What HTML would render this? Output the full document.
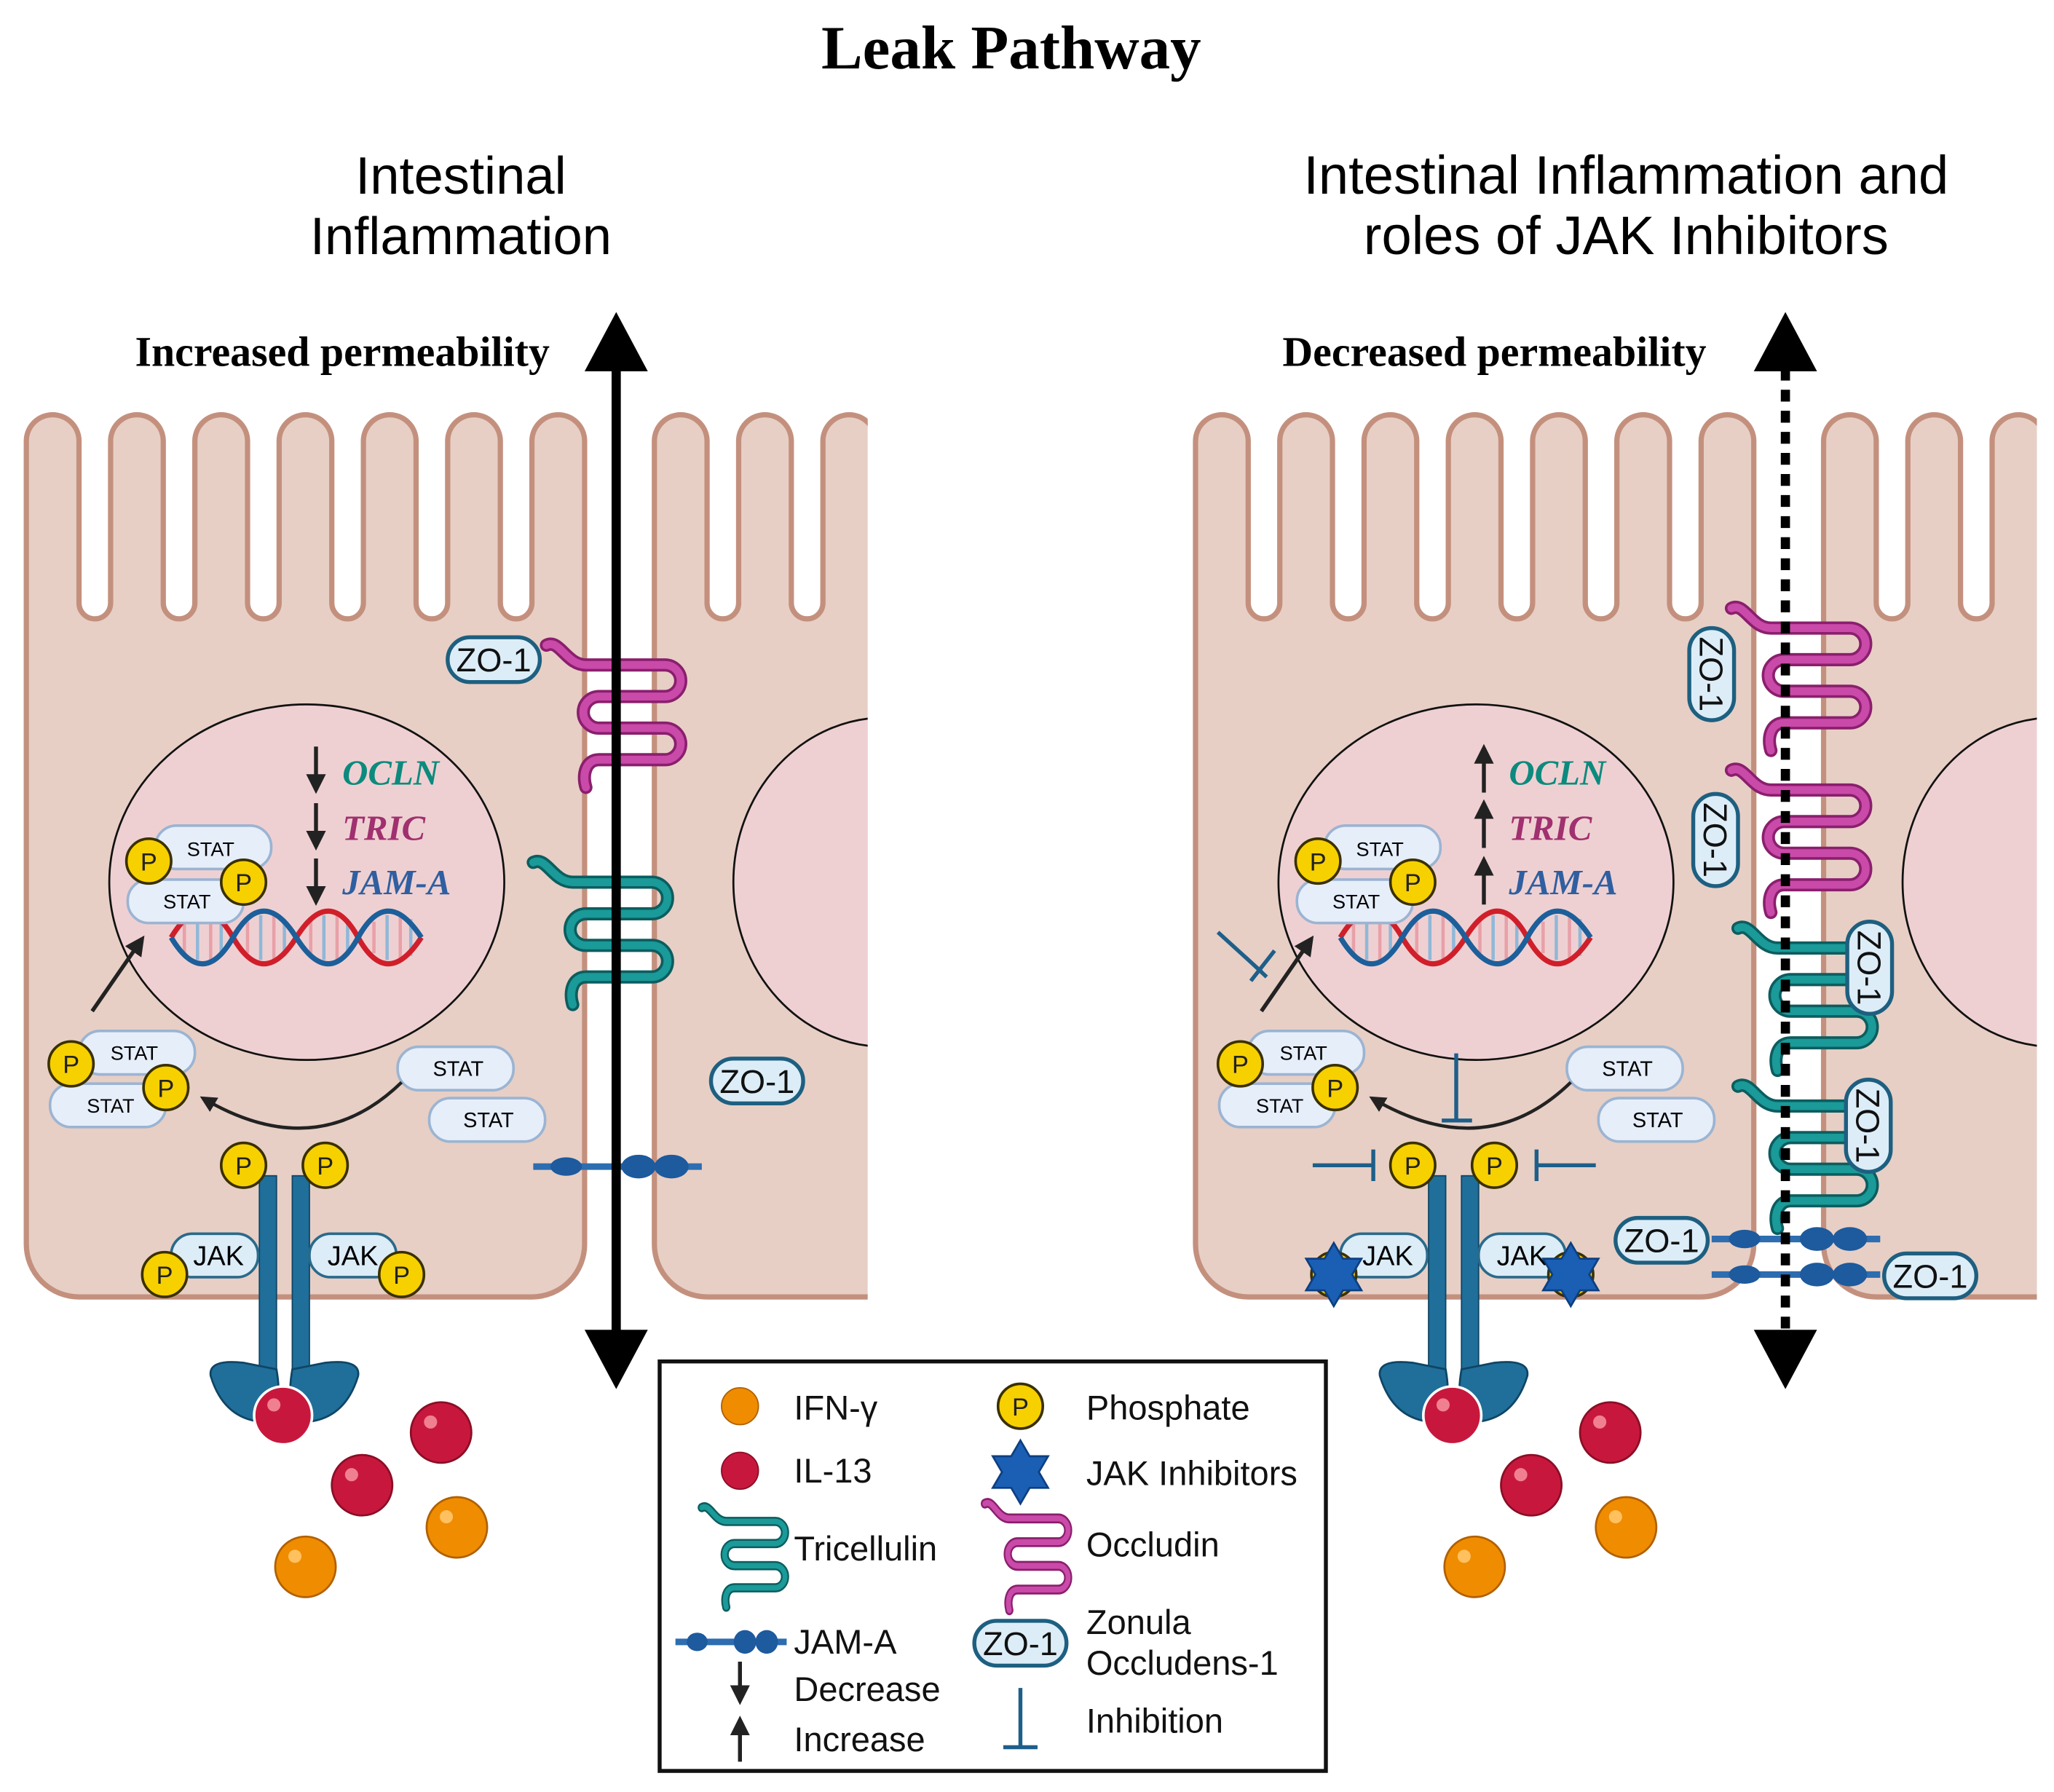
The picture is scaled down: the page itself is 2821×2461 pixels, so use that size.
<!DOCTYPE html>
<html><head><meta charset="utf-8"><style>html,body{margin:0;padding:0;background:#fff}svg{display:block}</style></head>
<body>
<svg xmlns="http://www.w3.org/2000/svg" xmlns:xlink="http://www.w3.org/1999/xlink" width="2821" height="2461" viewBox="0 0 1560 1361" preserveAspectRatio="none" font-family="Liberation Sans, sans-serif">
<defs>
<path id="cell" d="M20,945 L20,335 A20,20 0 0 1 60,335 L60,458 A12,12 0 0 0 84,458 L84,335 A20,20 0 0 1 124,335 L124,458 A12,12 0 0 0 148,458 L148,335 A20,20 0 0 1 188,335 L188,458 A12,12 0 0 0 212,458 L212,335 A20,20 0 0 1 252,335 L252,458 A12,12 0 0 0 276,458 L276,335 A20,20 0 0 1 316,335 L316,458 A12,12 0 0 0 340,458 L340,335 A20,20 0 0 1 380,335 L380,458 A12,12 0 0 0 404,458 L404,335 A20,20 0 0 1 444,335 L444,945 A40,40 0 0 1 404,985 L60,985 A40,40 0 0 1 20,945 Z"/>
<path id="ncell" d="M497,945 L497,335 A20,20 0 0 1 537,335 L537,458 A12,12 0 0 0 561,458 L561,335 A20,20 0 0 1 601,335 L601,458 A12,12 0 0 0 625,458 L625,335 A20,20 0 0 1 665,335 L665,458 L700,458 L700,985 L537,985 A40,40 0 0 1 497,945 Z"/>
<clipPath id="clipL"><rect x="0" y="0" width="659" height="1361"/></clipPath>
<clipPath id="clipR"><rect x="0" y="0" width="1547" height="1361"/></clipPath>
<path id="serp" d="M0,0 C10,-5 15,15 30,15 L90,15 A12,12 0 0 1 90,39 L40,39 A12,12 0 0 0 40,63 L90,63 A12,12 0 0 1 90,87 L40,87 C30,87 27,98 30,108" fill="none"/>
<g id="occ"><use xlink:href="#serp" stroke="#8a1f6d" stroke-width="10" stroke-linecap="round"/><use xlink:href="#serp" stroke="#c94aa8" stroke-width="6" stroke-linecap="round"/></g>
<g id="tric"><use xlink:href="#serp" stroke="#0c5d5f" stroke-width="10" stroke-linecap="round"/><use xlink:href="#serp" stroke="#1a9a98" stroke-width="6" stroke-linecap="round"/></g>
<g id="P"><circle r="17" fill="#f7d000" stroke="#3a3000" stroke-width="2"/><text y="7" text-anchor="middle" font-size="19" fill="#222">P</text></g>
<g id="star"><polygon points="0,-24 7,-12 21,-12 14,0 21,12 7,12 0,24 -7,12 -21,12 -14,0 -21,-12 -7,-12" fill="#1a5fb4" stroke="#0d3f80" stroke-width="1.5"/></g>
<g id="jam"><line x1="0" y1="0" x2="128" y2="0" stroke="#2d6db0" stroke-width="5"/><ellipse cx="25" cy="0" rx="12" ry="7" fill="#1d5a9e"/><ellipse cx="80" cy="0" rx="13" ry="9" fill="#1d5a9e"/><ellipse cx="105" cy="0" rx="13" ry="9" fill="#1d5a9e"/></g>
<g id="dna">
<g stroke-width="2.5"><line x1="140" y1="700" x2="140" y2="724" stroke="#e8a0a8"/><line x1="150" y1="695" x2="150" y2="729" stroke="#8fb8d8"/><line x1="160" y1="694" x2="160" y2="730" stroke="#e8a0a8"/><line x1="168" y1="698" x2="168" y2="726" stroke="#8fb8d8"/><line x1="188" y1="700" x2="188" y2="724" stroke="#e8a0a8"/><line x1="198" y1="695" x2="198" y2="729" stroke="#8fb8d8"/><line x1="208" y1="694" x2="208" y2="730" stroke="#e8a0a8"/><line x1="216" y1="698" x2="216" y2="726" stroke="#8fb8d8"/><line x1="236" y1="700" x2="236" y2="724" stroke="#e8a0a8"/><line x1="246" y1="695" x2="246" y2="729" stroke="#8fb8d8"/><line x1="256" y1="694" x2="256" y2="730" stroke="#e8a0a8"/><line x1="264" y1="698" x2="264" y2="726" stroke="#8fb8d8"/><line x1="284" y1="700" x2="284" y2="724" stroke="#e8a0a8"/><line x1="294" y1="695" x2="294" y2="729" stroke="#8fb8d8"/><line x1="304" y1="694" x2="304" y2="730" stroke="#e8a0a8"/><line x1="312" y1="698" x2="312" y2="726" stroke="#8fb8d8"/></g>
<path d="M130,712 Q154,672 177,712 T225,712 T272,712 T320,712" fill="none" stroke="#d01f2a" stroke-width="4"/>
<path d="M130,712 Q154,752 177,712 T225,712 T272,712 T320,712" fill="none" stroke="#1c5f9a" stroke-width="4"/>
</g>
<g id="statpill"><rect x="0" y="0" width="88" height="33" rx="16" fill="#e6eefa" stroke="#9bb4d2" stroke-width="2"/></g>
<g id="zo"><rect x="-35" y="-17" width="70" height="34" rx="17" fill="#dcedf8" stroke="#1e5f80" stroke-width="3"/><text y="9" text-anchor="middle" font-size="25" fill="#111">ZO-1</text></g>
<g id="receptor">
<rect x="197" y="893" width="13" height="160" fill="#1f6f9a" stroke="#0f4565" stroke-width="1"/>
<rect x="222" y="893" width="13" height="160" fill="#1f6f9a" stroke="#0f4565" stroke-width="1"/>
<path d="M160,1045 Q158,1032 185,1035 L210,1040 Q216,1075 200,1080 Q170,1078 160,1045 Z" fill="#1f6f9a" stroke="#0f4565" stroke-width="1.5"/>
<path d="M272,1045 Q274,1032 247,1035 L222,1040 Q216,1075 232,1080 Q262,1078 272,1045 Z" fill="#1f6f9a" stroke="#0f4565" stroke-width="1.5"/>
<circle cx="215" cy="1075" r="22" fill="#c8173d" stroke="#fff" stroke-width="2"/>
<circle cx="208" cy="1067" r="5" fill="#f08090"/>
</g>
<marker id="ah" markerWidth="5" markerHeight="5" refX="4" refY="2.5" orient="auto" markerUnits="strokeWidth"><path d="M0,0 L5,2.5 L0,5 Z" fill="#222"/></marker>
</defs>

<!-- Titles -->
<text x="768" y="52" text-anchor="middle" font-family="Liberation Serif, serif" font-weight="bold" font-size="47">Leak Pathway</text>
<text x="350" y="147" text-anchor="middle" font-size="40">Intestinal</text>
<text x="350" y="193" text-anchor="middle" font-size="40">Inflammation</text>
<text x="1235" y="147" text-anchor="middle" font-size="41">Intestinal Inflammation and</text>
<text x="1235" y="193" text-anchor="middle" font-size="41">roles of JAK Inhibitors</text>
<text x="260" y="278" text-anchor="middle" font-family="Liberation Serif, serif" font-weight="bold" font-size="32">Increased permeability</text>
<text x="1135" y="278" text-anchor="middle" font-family="Liberation Serif, serif" font-weight="bold" font-size="32">Decreased permeability</text>

<!-- LEFT PANEL cells -->
<g clip-path="url(#clipL)">
<use xlink:href="#ncell" fill="#e7cfc5" stroke="#c4907e" stroke-width="4"/>
<ellipse cx="672" cy="670" rx="115" ry="125" fill="#efd0d2" stroke="#111" stroke-width="1.5"/>
</g>
<use xlink:href="#cell" fill="#e7cfc5" stroke="#c4907e" stroke-width="4"/>
<ellipse cx="233" cy="670" rx="150" ry="135" fill="#efd0d2" stroke="#111" stroke-width="1.5"/>

<!-- RIGHT PANEL cells -->
<g clip-path="url(#clipR)">
<use xlink:href="#ncell" transform="translate(888,0)" fill="#e7cfc5" stroke="#c4907e" stroke-width="4"/>
<ellipse cx="1560" cy="670" rx="115" ry="125" fill="#efd0d2" stroke="#111" stroke-width="1.5"/>
</g>
<use xlink:href="#cell" transform="translate(888,0)" fill="#e7cfc5" stroke="#c4907e" stroke-width="4"/>
<ellipse cx="1121" cy="670" rx="150" ry="135" fill="#efd0d2" stroke="#111" stroke-width="1.5"/>

<g id="contents">
<use xlink:href="#dna"/>
<use xlink:href="#statpill" transform="translate(118,627)"/>
<use xlink:href="#statpill" transform="translate(97,668)"/>
<text x="160" y="650" text-anchor="middle" font-size="15">STAT</text>
<text x="142" y="690" text-anchor="middle" font-size="15">STAT</text>
<use xlink:href="#P" transform="translate(113,654)"/>
<use xlink:href="#P" transform="translate(185,670)"/>
<line x1="70" y1="768" x2="108" y2="713" stroke="#222" stroke-width="3" marker-end="url(#ah)"/>
<use xlink:href="#statpill" transform="translate(60,783)"/>
<use xlink:href="#statpill" transform="translate(38,823)"/>
<text x="102" y="805" text-anchor="middle" font-size="15">STAT</text>
<text x="84" y="845" text-anchor="middle" font-size="15">STAT</text>
<use xlink:href="#P" transform="translate(54,808)"/>
<use xlink:href="#P" transform="translate(126,826)"/>
<use xlink:href="#statpill" transform="translate(302,795)"/>
<use xlink:href="#statpill" transform="translate(326,834)"/>
<text x="348" y="817" text-anchor="middle" font-size="16">STAT</text>
<text x="371" y="856" text-anchor="middle" font-size="16">STAT</text>
<path d="M305,822 Q240,885 154,834" fill="none" stroke="#222" stroke-width="2.5" marker-end="url(#ah)"/>
<use xlink:href="#receptor"/>
<use xlink:href="#P" transform="translate(185,885)"/>
<use xlink:href="#P" transform="translate(247,885)"/>
<rect x="130" y="937" width="66" height="33" rx="16" fill="#dcedf8" stroke="#2a6a8a" stroke-width="2"/>
<rect x="235" y="937" width="66" height="33" rx="16" fill="#dcedf8" stroke="#2a6a8a" stroke-width="2"/>
<text x="166" y="961" text-anchor="middle" font-size="21">JAK</text>
<text x="268" y="961" text-anchor="middle" font-size="21">JAK</text>
<circle cx="335" cy="1088" r="23" fill="#c8173d" stroke="#8a0e26" stroke-width="1.5"/>
<circle cx="275" cy="1128" r="23" fill="#c8173d" stroke="#8a0e26" stroke-width="1.5"/>
<circle cx="347" cy="1160" r="23" fill="#f08c00" stroke="#b06000" stroke-width="1.5"/>
<circle cx="232" cy="1190" r="23" fill="#f08c00" stroke="#b06000" stroke-width="1.5"/>
<circle cx="327" cy="1080" r="5" fill="#f08090"/><circle cx="267" cy="1120" r="5" fill="#f08090"/>
<circle cx="339" cy="1152" r="5" fill="#ffc060"/><circle cx="224" cy="1182" r="5" fill="#ffc060"/>
</g>
<use xlink:href="#contents" transform="translate(888,0)"/>

<use xlink:href="#P" transform="translate(125,968)"/>
<use xlink:href="#P" transform="translate(305,968)"/>
<g stroke="#222" stroke-width="3" marker-end="url(#ah)">
<line x1="240" y1="567" x2="240" y2="600"/><line x1="240" y1="610" x2="240" y2="643"/><line x1="240" y1="652" x2="240" y2="685"/>
</g>
<g font-family="Liberation Serif, serif" font-weight="bold" font-style="italic" font-size="27">
<text x="260" y="596" fill="#0c8a7e">OCLN</text><text x="260" y="638" fill="#a0306f">TRIC</text><text x="260" y="679" fill="#2f5fa0">JAM-A</text>
<text x="1146" y="596" fill="#0c8a7e">OCLN</text><text x="1146" y="638" fill="#a0306f">TRIC</text><text x="1146" y="679" fill="#2f5fa0">JAM-A</text>
</g>
<use xlink:href="#occ" transform="translate(415,490)"/>
<use xlink:href="#tric" transform="translate(405,655)"/>
<use xlink:href="#zo" transform="translate(375,501)"/>
<use xlink:href="#zo" transform="translate(575,821)"/>
<use xlink:href="#jam" transform="translate(405,886)"/>
<line x1="468" y1="275" x2="468" y2="1015" stroke="#000" stroke-width="7"/>
<polygon points="468,237 492,282 444,282" fill="#000"/>
<polygon points="468,1055 492,1010 444,1010" fill="#000"/>

<use xlink:href="#P" transform="translate(1013,968)"/>
<use xlink:href="#P" transform="translate(1193,968)"/>
<use xlink:href="#star" transform="translate(1013,968)"/>
<use xlink:href="#star" transform="translate(1193,968)"/>
<g stroke="#222" stroke-width="3" marker-end="url(#ah)">
<line x1="1127" y1="602" x2="1127" y2="568"/><line x1="1127" y1="644" x2="1127" y2="610"/><line x1="1127" y1="687" x2="1127" y2="653"/>
</g>
<g stroke="#1e5f8a" stroke-width="3" fill="none">
<path d="M925,708 L958,738 M946,727 L962,742 M950,745 L968,722"/>
<line x1="1106" y1="800" x2="1106" y2="850"/><line x1="1095" y1="851" x2="1118" y2="851"/>
<line x1="997" y1="885" x2="1042" y2="885"/><line x1="1043" y1="873" x2="1043" y2="897"/>
<line x1="1212" y1="885" x2="1168" y2="885"/><line x1="1167" y1="873" x2="1167" y2="897"/>
</g>
<use xlink:href="#occ" transform="translate(1315,462)"/>
<use xlink:href="#occ" transform="translate(1315,585)"/>
<use xlink:href="#tric" transform="translate(1320,705)"/>
<use xlink:href="#tric" transform="translate(1320,825)"/>
<use xlink:href="#zo" transform="translate(1300,512) rotate(90)"/>
<use xlink:href="#zo" transform="translate(1303,638) rotate(90)"/>
<use xlink:href="#zo" transform="translate(1420,735) rotate(90)"/>
<use xlink:href="#zo" transform="translate(1419,855) rotate(90)"/>
<use xlink:href="#jam" transform="translate(1300,941)"/>
<use xlink:href="#jam" transform="translate(1300,968)"/>
<use xlink:href="#zo" transform="translate(1262,942)"/>
<use xlink:href="#zo" transform="translate(1466,969)"/>
<line x1="1356" y1="280" x2="1356" y2="1012" stroke="#000" stroke-width="7" stroke-dasharray="9,7"/>
<polygon points="1356,237 1380,282 1332,282" fill="#000"/>
<polygon points="1356,1055 1380,1010 1332,1010" fill="#000"/>

<rect x="501" y="1034" width="506" height="311" fill="#fff" stroke="#111" stroke-width="3"/>
<g font-size="26" fill="#111">
<circle cx="562" cy="1068" r="14" fill="#f08c00" stroke="#b06000"/>
<text x="603" y="1078">IFN-γ</text>
<circle cx="562" cy="1117" r="14" fill="#c8173d" stroke="#8a0e26"/>
<text x="603" y="1126">IL-13</text>
<use xlink:href="#tric" transform="translate(533,1145) scale(0.62,0.7)"/>
<text x="603" y="1185">Tricellulin</text>
<use xlink:href="#jam" transform="translate(513,1247) scale(0.66,1)"/>
<text x="603" y="1256">JAM-A</text>
<line x1="562" y1="1262" x2="562" y2="1292" stroke="#222" stroke-width="3" marker-end="url(#ah)"/>
<text x="603" y="1292">Decrease</text>
<line x1="562" y1="1338" x2="562" y2="1306" stroke="#222" stroke-width="3" marker-end="url(#ah)"/>
<text x="603" y="1330">Increase</text>
<use xlink:href="#P" transform="translate(775,1068)"/>
<text x="825" y="1078">Phosphate</text>
<use xlink:href="#star" transform="translate(775,1118)"/>
<text x="825" y="1128">JAK Inhibitors</text>
<use xlink:href="#occ" transform="translate(748,1142) scale(0.62,0.75)"/>
<text x="825" y="1182">Occludin</text>
<use xlink:href="#zo" transform="translate(775,1248)"/>
<text x="825" y="1241">Zonula</text>
<text x="825" y="1272">Occludens-1</text>
<line x1="775" y1="1282" x2="775" y2="1327" stroke="#1e5f8a" stroke-width="3"/>
<line x1="762" y1="1327" x2="788" y2="1327" stroke="#1e5f8a" stroke-width="3"/>
<text x="825" y="1316">Inhibition</text>
</g>
</svg>
</body></html>
